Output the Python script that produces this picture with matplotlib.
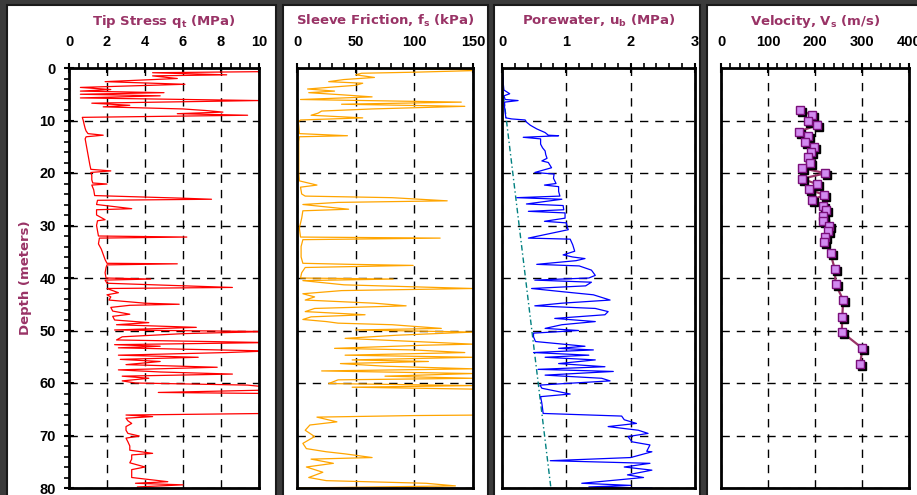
import matplotlib
matplotlib.use('Agg')
import matplotlib.pyplot as plt
from matplotlib.patches import Rectangle
from matplotlib.ticker import MultipleLocator
from matplotlib.transforms import offset_copy

#data (depth in meters)

tip_depth = [0.0, 0.1, 0.7, 0.9, 1.3, 1.5, 2.0, 2.6, 3.1, 3.7, 4.1, 4.4, 4.7, 5.0, 5.3, 5.7, 6.2, 6.7, 7.1, 7.4,
             7.8, 8.1, 8.4, 8.7, 9.0, 9.4, 10.0, 10.8, 11.5, 12.0, 12.5, 12.8, 13.1, 13.5, 14.5, 15.5, 16.5, 17.5, 18.5, 19.3,
             19.6, 19.9, 20.5, 21.3, 21.9, 22.1, 22.3, 23.2, 24.3, 24.8, 25.0, 25.2, 26.0, 26.8, 27.0, 28.0, 28.9, 29.1, 30.0, 31.0,
             32.0, 32.2, 32.4, 33.5, 34.5, 35.5, 36.5, 37.2, 37.3, 37.5, 38.0, 39.0, 40.0, 40.2, 40.4, 41.0, 41.8, 42.0, 42.8, 43.2,
             43.6, 44.2, 44.8, 45.0, 45.2, 45.6, 46.3, 46.9, 47.3, 48.0, 48.5, 48.9, 49.4, 49.9, 50.2, 50.6, 51.2, 51.8, 52.3, 52.7,
             53.0, 53.3, 53.9, 54.2, 54.7, 55.1, 55.5, 55.9, 56.5, 57.0, 57.5, 57.9, 58.3, 58.7, 59.1, 59.6, 60.0, 60.4, 60.8, 61.3,
             61.8, 62.0, 63.0, 64.0, 65.0, 65.8, 66.1, 66.4, 66.7, 67.2, 67.7, 68.3, 69.0, 69.6, 70.1, 70.5, 71.2, 72.0, 72.8, 73.4,
             73.7, 74.5, 75.2, 76.0, 76.5, 77.2, 78.0, 78.8, 79.1, 79.4, 79.8, 80.0]
tip_stress = [7.0, 10.0, 10.0, 4.4, 8.3, 4.4, 5.7, 1.9, 6.1, 0.6, 2.2, 0.6, 5.0, 0.6, 4.8, 0.6, 10.0, 1.2, 3.2, 1.8,
              6.0, 7.2, 8.1, 5.7, 9.4, 0.7, 0.75, 0.8, 0.85, 0.9, 1.0, 1.8, 0.9, 0.85, 0.9, 0.95, 1.0, 1.05, 1.1, 1.15,
              2.2, 1.15, 1.2, 1.2, 1.25, 2.0, 1.2, 1.3, 1.35, 6.0, 7.5, 1.5, 1.45, 3.3, 1.45, 1.45, 1.9, 1.5, 1.45, 1.5,
              1.55, 6.2, 1.6, 1.55, 1.7, 1.8, 1.9, 2.0, 5.7, 2.0, 1.95, 1.9, 1.95, 4.3, 1.9, 2.0, 8.6, 2.0, 2.6, 2.0,
              2.2, 2.1, 4.0, 5.8, 3.2, 2.2, 2.3, 3.2, 2.3, 2.4, 4.2, 2.5, 6.7, 2.4, 10.5, 6.0, 2.8, 2.5, 10.5, 2.4,
              4.8, 2.6, 10.5, 8.3, 2.6, 6.8, 2.7, 4.8, 3.0, 7.8, 2.6, 4.8, 8.6, 2.8, 4.2, 2.8, 3.5, 9.4, 10.5, 11.0,
              4.7, 10.5, 12.0, 13.0, 12.0, 10.5, 3.0, 4.4, 3.0, 3.1, 3.3, 3.0, 3.0, 3.1, 3.7, 3.0, 3.1, 3.2, 3.2, 4.4,
              3.3, 3.3, 3.2, 4.0, 3.3, 3.3, 3.3, 5.2, 3.5, 6.0, 3.6, 3.6]

fs_depth = [0.0, 0.3, 0.5, 0.8, 1.0, 1.3, 1.8, 2.2, 2.6, 2.9, 3.3, 3.6, 4.0, 4.4, 4.7, 5.1, 5.5, 6.0, 6.5, 6.9,
            7.3, 7.8, 8.2, 8.6, 9.0, 9.5, 9.9, 10.3, 11.0, 12.5, 12.9, 13.1, 14.0, 16.0, 18.0, 20.0, 21.5, 22.3, 22.7, 24.0,
            24.4, 24.7, 25.3, 25.6, 26.0, 26.9, 27.2, 28.6, 30.5, 32.2, 32.4, 32.7, 34.0, 36.0, 37.2, 37.4, 37.6, 38.0, 39.0, 40.0,
            40.2, 40.5, 41.3, 42.0, 42.4, 43.0, 43.6, 44.2, 44.8, 45.3, 45.8, 46.4, 47.0, 47.4, 47.9, 48.3, 48.6, 48.9, 49.6, 49.9,
            50.3, 50.9, 51.5, 52.6, 52.8, 53.4, 53.7, 54.2, 54.7, 55.1, 55.6, 55.9, 56.3, 56.8, 57.3, 57.7, 58.2, 58.7, 59.1, 59.4,
            60.1, 60.5, 60.8, 61.2, 63.0, 65.0, 66.1, 66.2, 66.5, 67.4, 68.0, 69.0, 70.2, 71.5, 72.5, 73.1, 73.5, 74.2, 74.5, 75.3,
            76.0, 77.0, 78.0, 78.6, 79.1, 79.6, 80.0]
sleeve_friction = [30, 150, 150, 100, 55, 50, 66, 40, 27, 56, 50, 32, 9, 32, 10, 38, 64, 3, 140, 38,
                   143, 64, 21, 18, 12, 56, 3, 1, 1.5, 2, 43, 2, 1.5, 1.5, 1.5, 1.5, 2, 17, 3, 4,
                   7, 81, 128, 35, 5, 44, 5, 4, 2, 3, 122, 5, 3.5, 3.5, 5, 46, 99, 7, 4, 3,
                   82, 5, 40, 150, 38, 5, 15, 7, 66, 93, 15, 7, 58, 12, 5, 25, 35, 81, 123, 50,
                   150, 85, 41, 150, 109, 32, 99, 143, 41, 150, 47, 112, 37, 75, 150, 21, 150, 75, 150, 35,
                   27, 150, 47, 160, 170, 165, 160, 100, 17, 34, 11, 7, 15, 5, 8, 25, 41, 64, 12, 31,
                   8, 22, 10, 25, 110, 135, 1]

pw_depth = [0.0, 1.0, 2.0, 3.0, 4.2, 4.9, 5.3, 6.0, 6.2, 6.5, 7.5, 8.5, 9.5, 9.7, 9.9, 10.3, 10.9, 11.6, 12.3, 12.8,
            12.9, 13.2, 13.5, 14.5, 15.2, 15.8, 16.5, 17.2, 17.7, 18.0, 19.0, 19.9, 20.2, 21.0, 22.0, 22.3, 22.6, 23.5, 24.4, 24.7,
            25.0, 25.9, 26.2, 27.0, 27.3, 27.6, 28.6, 29.2, 29.5, 30.5, 30.8, 32.4, 32.6, 33.7, 34.9, 35.6, 36.0, 36.3, 36.7, 37.4,
            37.7, 38.5, 39.5, 40.0, 40.4, 40.8, 41.5, 42.0, 42.6, 43.2, 44.2, 44.8, 45.3, 45.8, 46.4, 47.0, 47.7, 48.3, 48.9, 49.6,
            50.0, 50.5, 51.2, 52.1, 53.0, 53.4, 53.7, 54.2, 54.7, 55.1, 55.6, 56.3, 56.9, 57.4, 57.8, 58.5, 59.1, 59.6, 60.1, 60.4,
            61.0, 62.1, 62.6, 63.9, 65.8, 66.3, 67.0, 67.7, 68.3, 69.0, 69.6, 70.2, 71.2, 71.8, 73.0, 73.1, 74.2, 74.8, 75.3, 76.0,
            76.6, 77.5, 78.0, 79.1, 79.5, 79.8, 80.0]
porewater = [0.0, 0.01, 0.02, 0.02, 0.03, 0.12, 0.03, 0.05, 0.25, 0.04, 0.04, 0.05, 0.06, 0.15, 0.36, 0.38, 0.44, 0.54, 0.67, 0.72,
             0.88, 0.33, 0.6, 0.6, 0.63, 0.67, 0.68, 0.7, 0.62, 0.72, 0.77, 0.51, 0.81, 0.8, 0.84, 0.66, 0.88, 0.88, 0.9, 0.23,
             0.93, 0.38, 0.95, 0.96, 0.41, 0.98, 0.98, 0.66, 1.0, 1.02, 1.03, 0.41, 1.06, 1.1, 1.13, 0.95, 1.1, 1.29, 1.15, 0.54,
             1.2, 1.39, 1.45, 1.35, 0.51, 1.39, 1.3, 0.46, 0.93, 1.42, 1.68, 0.93, 0.51, 1.45, 1.65, 1.6, 0.82, 1.45, 0.93, 0.67,
             1.19, 0.49, 0.49, 0.52, 1.29, 0.88, 1.42, 0.49, 1.35, 0.67, 1.45, 0.88, 1.6, 0.56, 1.73, 0.67, 1.55, 1.68, 0.98, 0.59,
             0.62, 1.06, 0.6, 0.62, 0.64, 1.86, 1.9, 2.09, 1.65, 2.12, 2.27, 1.96, 2.02, 2.3, 2.25, 2.33, 2.0, 0.75, 2.3, 1.9,
             2.33, 1.95, 2.2, 1.24, 2.0, 1.35, 2.33]

#hydrostatic line
hydro_depth = [3.0, 80.0]
hydro_u = [0.0, 0.76]

vs_depth = [8.0, 9.0, 10.0, 10.9, 12.1, 13.0, 14.0, 15.0, 16.0, 17.0, 18.1, 19.05, 20.06, 21.1, 22.1, 23.1, 24.2,
            25.1, 26.2, 27.0, 28.1, 29.1, 30.1, 31.1, 32.1, 33.1, 35.3, 38.3, 41.2, 44.2, 47.4, 50.3, 53.4, 56.4]
velocity = [168, 194, 186, 204, 166, 185, 179, 198, 192, 186, 190, 173, 222, 172, 204, 187, 220,
            194, 216, 224, 216, 218, 230, 227, 221, 220, 233, 242, 244, 260, 258, 257, 301, 296]

title_color = '#993366'

fig = plt.figure(figsize=(9.17, 4.95), dpi=100)
fig.patch.set_facecolor('#3b3b3b')

#white panels behind each log
W, H = 917.0, 495.0
for x0, x1 in [(7, 276), (283, 488), (494, 700), (707, 930)]:
  fig.add_artist(Rectangle((x0 / W, -0.05), (x1 - x0) / W, 1.05 - 5 / H, transform=fig.transFigure,
                           facecolor='white', edgecolor='#1a1a1a', linewidth=1.5, zorder=-1))

bottom = 1 - 488 / H
height = 420 / H
axes_pos = [(69, 259), (297, 473), (502, 695), (721, 909)]
axs = [fig.add_axes([a / W, bottom, (b - a) / W, height]) for a, b in axes_pos]

panels = [
  ('Tip Stress q$_\\mathregular{t}$ (MPa)', 10, 2, 0.5),
  ('Sleeve Friction, f$_\\mathregular{s}$ (kPa)', 150, 50, 10),
  ('Porewater, u$_\\mathregular{b}$ (MPa)', 3, 1, 0.2),
  ('Velocity, V$_\\mathregular{s}$ (m/s)', 400, 100, 20),
]

for ax, (title, xmax, major, minor) in zip(axs, panels):
  ax.set_xlim(0, xmax)
  ax.set_ylim(80, 0)
  ax.xaxis.set_major_locator(MultipleLocator(major))
  ax.xaxis.set_minor_locator(MultipleLocator(minor))
  ax.yaxis.set_major_locator(MultipleLocator(10))
  ax.xaxis.tick_top()
  ax.tick_params(axis='x', which='major', direction='inout', length=7, width=1.5, pad=10,
                 labelsize=10.5, labeltop=True, labelbottom=False, top=True, bottom=False)
  ax.tick_params(axis='x', which='minor', direction='out', length=3.5, width=1.2, top=True, bottom=False)
  for lab in ax.get_xticklabels():
    lab.set_fontweight('bold')
    lab.set_family('Liberation Sans')
  ax.grid(True, which='major', color='black', linestyle=(0, (6, 5)), linewidth=1)
  for s in ax.spines.values():
    s.set_linewidth(2)
  ax.set_title(title, color=title_color, fontsize=9.5, fontweight='bold', pad=31)

#only first log gets depth labels
axs[0].yaxis.set_minor_locator(MultipleLocator(2))
axs[0].tick_params(axis='y', which='major', direction='inout', length=7, width=1.5, pad=6, labelsize=10.5)
axs[0].tick_params(axis='y', which='minor', direction='out', length=3.5, width=1.2)
for lab in axs[0].get_yticklabels():
  lab.set_fontweight('bold')
  lab.set_family('Liberation Sans')
axs[0].set_ylabel('Depth (meters)', color=title_color, fontsize=9.5, fontweight='bold', labelpad=5)
for ax in axs[1:]:
  ax.tick_params(axis='y', which='both', left=False, labelleft=False)

#traces
axs[0].plot(tip_stress, tip_depth, color='red', linewidth=0.9)
axs[1].plot(sleeve_friction, fs_depth, color='#ffa500', linewidth=0.9)
axs[2].plot(hydro_u, hydro_depth, color='#008080', linewidth=1, linestyle=(0, (4, 2, 1, 2)))
axs[2].plot(porewater, pw_depth, color='blue', linewidth=0.9)

#velocity with shadowed markers
shadow = offset_copy(axs[3].transData, fig=fig, x=2, y=-2, units='dots')
axs[3].plot(velocity, vs_depth, color='#993366', linewidth=1.6, zorder=3)
axs[3].plot(velocity, vs_depth, 's', color='black', markersize=5.3, transform=shadow, zorder=4)
axs[3].plot(velocity, vs_depth, 's', markerfacecolor='#d28af0', markeredgecolor='#7a0f7a',
            markeredgewidth=1, markersize=5.3, zorder=5)

fig.savefig('out.png', dpi=100, facecolor=fig.get_facecolor())
